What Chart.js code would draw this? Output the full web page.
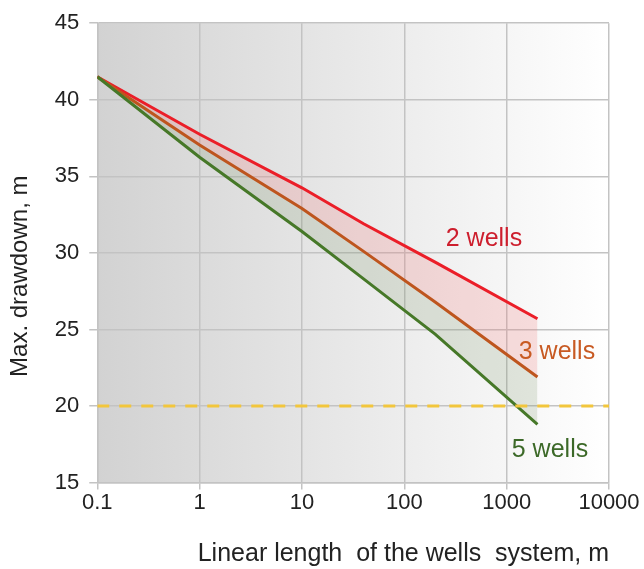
<!DOCTYPE html>
<html>
<head>
<meta charset="utf-8">
<script src="https://cdn.jsdelivr.net/npm/chart.js@4"></script>
<style>
  html, body { margin: 0; padding: 0; background: #fff; }
  #wrap { width: 644px; height: 569px; }
</style>
</head>
<body>
<div id="wrap"><canvas id="grafico"></canvas></div>
<script>
// Dados
const comprimento = [0.1, 1, 10, 40, 200, 2000];
const poco2 = [41.5, 37.75, 34.25, 31.9, 29.4, 25.7];
const poco3 = [41.5, 37.05, 32.9, 30.1, 26.8, 21.9];
const poco5 = [41.5, 36.25, 31.4, 28.3, 24.7, 18.8];
const limiteX = [0.1, 10000];
const limiteY = [20, 20];
const xTicks = [0.1, 1, 10, 100, 1000, 10000];

// Rótulos das séries, em coordenadas dos dados
const rotulos = [
    { texto: '2 wells', x: 600, y: 30.9, cor: 'rgb(205,30,45)' },
    { texto: '3 wells', x: 3100, y: 23.5, cor: 'rgb(200,90,35)' },
    { texto: '5 wells', x: 2650, y: 17.1, cor: 'rgb(60,105,40)' }
];

function pares(xs, ys) {
    return xs.map((x, i) => ({ x: x, y: ys[i] }));
}

// Fundo em degradê da área do gráfico
const fundoPlugin = {
    id: 'fundo',
    beforeDraw(chart) {
        const { ctx, chartArea: a } = chart;
        const g = ctx.createLinearGradient(a.left, 0, a.right, 0);
        g.addColorStop(0, 'rgb(210,210,210)');
        g.addColorStop(1, 'rgb(255,255,255)');
        ctx.save();
        ctx.fillStyle = g;
        ctx.fillRect(a.left, a.top, a.right - a.left, a.bottom - a.top);
        ctx.restore();
    }
};

// Texto dos rótulos
const rotuloPlugin = {
    id: 'rotulos',
    afterDatasetsDraw(chart) {
        const { ctx, scales } = chart;
        ctx.save();
        ctx.font = '25px "Liberation Sans", Arial, sans-serif';
        ctx.textAlign = 'center';
        ctx.textBaseline = 'middle';
        rotulos.forEach(r => {
            ctx.fillStyle = r.cor;
            ctx.fillText(r.texto, scales.x.getPixelForValue(r.x), scales.y.getPixelForValue(r.y));
        });
        ctx.restore();
    }
};

const familia = '"Liberation Sans", Arial, sans-serif';
const fonteTick = { family: familia, size: 22 };

new Chart(document.getElementById('grafico'), {
    type: 'line',
    data: {
        datasets: [
            {
                label: '2 wells',
                data: pares(comprimento, poco2),
                borderColor: 'rgb(235,30,40)',
                backgroundColor: 'rgba(240,120,120,0.22)',
                borderWidth: 3,
                pointRadius: 0,
                fill: '+1',
                order: 3
            },
            {
                label: '3 wells',
                data: pares(comprimento, poco3),
                borderColor: 'rgb(190,85,30)',
                backgroundColor: 'rgba(110,140,90,0.18)',
                borderWidth: 3,
                pointRadius: 0,
                fill: '+1',
                order: 2
            },
            {
                label: '5 wells',
                data: pares(comprimento, poco5),
                borderColor: 'rgb(70,120,40)',
                borderWidth: 3,
                pointRadius: 0,
                fill: false,
                order: 1
            },
            {
                label: 'limite',
                data: pares(limiteX, limiteY),
                borderColor: 'rgb(242,198,60)',
                borderWidth: 3,
                borderDash: [12, 10],
                pointRadius: 0,
                fill: false,
                order: 0
            }
        ]
    },
    options: {
        responsive: true,
        maintainAspectRatio: false,
        animation: false,
        layout: { padding: { top: 14, right: 35, left: 6, bottom: 0 } },
        plugins: {
            legend: { display: false },
            tooltip: { enabled: false }
        },
        scales: {
            x: {
                type: 'logarithmic',
                min: 0.1,
                max: 10000,
                afterBuildTicks(axis) {
                    axis.ticks = xTicks.map(v => ({ value: v }));
                },
                ticks: {
                    color: '#222',
                    font: fonteTick,
                    padding: 0,
                    maxRotation: 0,
                    callback: v => String(v)
                },
                grid: { color: 'rgb(195,195,195)', lineWidth: 1.5, tickLength: 7 },
                border: { color: 'rgb(195,195,195)', width: 1.5 },
                title: {
                    display: true,
                    align: 'end',
                    text: 'Linear length  of the wells  system, m',
                    color: '#222',
                    font: { family: familia, size: 25 },
                    padding: { top: 23, bottom: 0 }
                }
            },
            y: {
                min: 15,
                max: 45,
                ticks: { stepSize: 5, color: '#222', font: fonteTick, padding: 10 },
                grid: { color: 'rgb(195,195,195)', lineWidth: 1.5, tickLength: 8 },
                border: { color: 'rgb(195,195,195)', width: 1.5 },
                title: {
                    display: true,
                    text: 'Max. drawdown, m       ',
                    color: '#222',
                    font: { family: familia, size: 24 },
                    padding: { top: 0, bottom: 10 }
                }
            }
        }
    },
    plugins: [fundoPlugin, rotuloPlugin]
});
</script>
</body>
</html>
